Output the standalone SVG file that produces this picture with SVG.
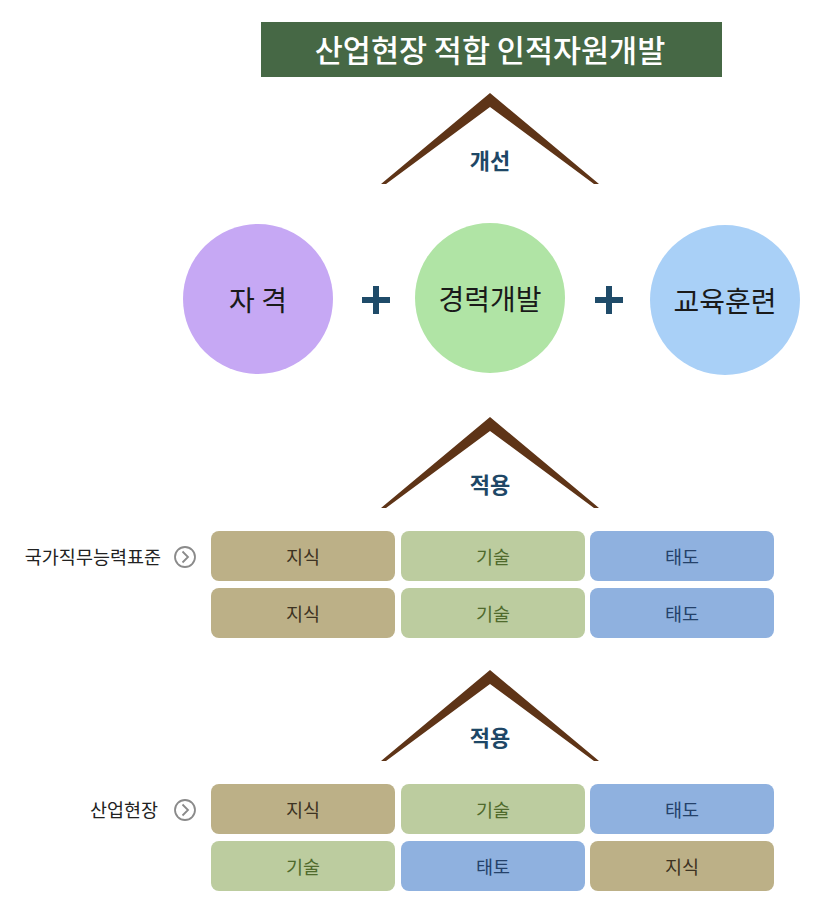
<svg xmlns="http://www.w3.org/2000/svg" width="830" height="910" viewBox="0 0 830 910">
<style>
text{font-family:"Noto Sans CJK KR","Noto Sans",sans-serif;text-anchor:middle;dominant-baseline:central}
.roof{fill:#5e3417}
.rl{font-size:22px;font-weight:bold;fill:#1e4766}
.circ{font-size:28px;fill:#1a1a1a}
.plus{stroke:#1f4b69;stroke-width:6}
.b1{fill:#bcb087}.b2{fill:#bccc9f}.b3{fill:#8fb1df}
.t1{font-size:18.5px;fill:#3d3322}.t2{font-size:18.5px;fill:#4f6a2c}.t3{font-size:18.5px;fill:#24416a}
.side{font-size:18.5px;fill:#222;text-anchor:end}
.ico{fill:#fff;stroke:#8a8a8a;stroke-width:1.8}
.chev{fill:none;stroke:#8a8a8a;stroke-width:1.8}
</style>
<g id="title">
<rect x="261" y="22" width="461" height="55" fill="#466845"/>
<text x="490" y="49" style="font-size:30.5px;font-weight:500;fill:#fff">산업현장 적합 인적자원개발</text>
</g>
<g id="connectors">
<polygon class="roof" points="381,184 490,93 599,184 594,184 490,107 386,184"/>
<polygon class="roof" points="381,508 490,417 599,508 594,508 490,431 386,508"/>
<polygon class="roof" points="381,761 490,670 599,761 594,761 490,684 386,761"/>
<text class="rl" x="490" y="159">개선</text>
<text class="rl" x="490" y="483">적용</text>
<text class="rl" x="490" y="736">적용</text>
<path class="plus" d="M362,300H390M376,286V314M595,300H623M609,286V314"/>
</g>
<g id="circle-jagyeok">
<circle cx="258" cy="299" r="75" fill="#c6a8f4"/>
<text class="circ" x="258" y="299">자 격</text>
</g>
<g id="circle-career">
<circle cx="490" cy="298" r="75" fill="#b0e4a5"/>
<text class="circ" x="490" y="298">경력개발</text>
</g>
<g id="circle-edu">
<circle cx="725" cy="300" r="75" fill="#a9d0f7"/>
<text class="circ" x="725" y="300">교육훈련</text>
</g>
<g id="label-ncs">
<text class="side" x="161" y="556">국가직무능력표준</text>
<circle class="ico" cx="185" cy="557" r="10"/>
<path class="chev" d="M182.5,551.5L188,557L182.5,562.5"/>
</g>
<g id="label-industry">
<text class="side" x="158" y="809">산업현장</text>
<circle class="ico" cx="185" cy="810" r="10"/>
<path class="chev" d="M182.5,804.5L188,810L182.5,815.5"/>
</g>
<g id="ncs-r1">
<rect class="b1" x="211" y="531" width="184" height="50" rx="8"/><text class="t1" x="303" y="556">지식</text>
<rect class="b2" x="401" y="531" width="184" height="50" rx="8"/><text class="t2" x="493" y="556">기술</text>
<rect class="b3" x="590" y="531" width="184" height="50" rx="8"/><text class="t3" x="682" y="556">태도</text>
</g>
<g id="ncs-r2">
<rect class="b1" x="211" y="588" width="184" height="50" rx="8"/><text class="t1" x="303" y="613">지식</text>
<rect class="b2" x="401" y="588" width="184" height="50" rx="8"/><text class="t2" x="493" y="613">기술</text>
<rect class="b3" x="590" y="588" width="184" height="50" rx="8"/><text class="t3" x="682" y="613">태도</text>
</g>
<g id="ind-r1">
<rect class="b1" x="211" y="784" width="184" height="50" rx="8"/><text class="t1" x="303" y="809">지식</text>
<rect class="b2" x="401" y="784" width="184" height="50" rx="8"/><text class="t2" x="493" y="809">기술</text>
<rect class="b3" x="590" y="784" width="184" height="50" rx="8"/><text class="t3" x="682" y="809">태도</text>
</g>
<g id="ind-r2">
<rect class="b2" x="211" y="841" width="184" height="50" rx="8"/><text class="t2" x="303" y="866">기술</text>
<rect class="b3" x="401" y="841" width="184" height="50" rx="8"/><text class="t3" x="493" y="866">태토</text>
<rect class="b1" x="590" y="841" width="184" height="50" rx="8"/><text class="t1" x="682" y="866">지식</text>
</g>
</svg>
